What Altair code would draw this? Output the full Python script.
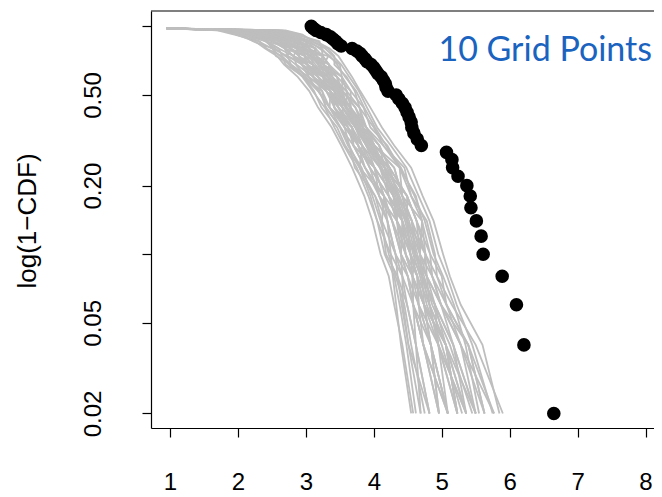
import altair as alt
import pandas as pd

# Observed survival points (1-CDF), largest probability first
obs_p = [1.00, 0.98, 0.96, 0.94, 0.92, 0.90, 0.88, 0.86, 0.84, 0.82,
         0.80, 0.78, 0.76, 0.74, 0.72, 0.70, 0.68, 0.66, 0.64, 0.62,
         0.60, 0.58, 0.56, 0.54, 0.52, 0.50, 0.48, 0.46, 0.44, 0.42,
         0.40, 0.38, 0.36, 0.34, 0.32, 0.30, 0.28, 0.26, 0.24, 0.22,
         0.20, 0.18, 0.16, 0.14, 0.12, 0.10, 0.08, 0.06, 0.04, 0.02]
obs_x = [3.08, 3.11, 3.15, 3.22, 3.30, 3.36, 3.40, 3.44, 3.47, 3.52,
         3.68, 3.75, 3.80, 3.83, 3.87, 3.90, 3.96, 4.00, 4.03, 4.06,
         4.11, 4.14, 4.17, 4.18, 4.21, 4.33, 4.37, 4.42, 4.46, 4.49,
         4.52, 4.55, 4.56, 4.59, 4.64, 4.70, 5.07, 5.15, 5.16, 5.24,
         5.37, 5.42, 5.43, 5.51, 5.58, 5.61, 5.89, 6.10, 6.21, 6.65]

# Simulated curves (grey): common start point, then x at each probability level
sim_start_x = 0.95
sim_start_p = 0.98
sim_levels = [0.96, 0.92, 0.86, 0.80, 0.74, 0.68, 0.60, 0.52, 0.44, 0.36,
              0.30, 0.24, 0.18, 0.14, 0.10, 0.08, 0.06, 0.04, 0.02]
sim_a = [1.70, 1.95, 2.32, 2.42, 2.65, 2.70, 2.97, 3.12, 3.23, 3.46, 3.58, 3.79, 3.95, 4.05, 4.25, 4.28, 4.33, 4.40, 4.55]
sim_b = [2.70, 2.95, 3.10, 3.32, 3.42, 3.42, 3.60, 3.72, 3.79, 4.00, 4.14, 4.45, 4.55, 4.78, 4.90, 4.93, 5.15, 5.50, 5.90]
sim_c = [1.90, 2.05, 2.22, 2.51, 2.56, 2.78, 3.04, 3.18, 3.35, 3.51, 3.70, 3.87, 4.15, 4.20, 4.25, 4.42, 4.43, 4.51, 4.69]
sim_d = [2.50, 2.85, 3.20, 3.23, 3.33, 3.50, 3.53, 3.60, 3.79, 3.89, 4.08, 4.23, 4.49, 4.63, 4.83, 4.86, 4.99, 5.39, 5.63]
sim_e = [2.20, 2.35, 2.71, 2.78, 2.99, 3.02, 3.25, 3.48, 3.54, 3.78, 3.89, 4.01, 4.29, 4.34, 4.54, 4.64, 4.66, 4.95, 5.09]
sim_f = [2.00, 2.25, 2.61, 2.69, 2.82, 2.86, 3.11, 3.36, 3.42, 3.62, 3.83, 3.94, 4.22, 4.42, 4.47, 4.64, 4.66, 4.73, 4.96]
sim_g = [2.30, 2.65, 2.81, 3.05, 3.08, 3.26, 3.32, 3.42, 3.60, 3.73, 3.95, 4.16, 4.29, 4.49, 4.61, 4.78, 4.82, 5.06, 5.50]
sim_h = [2.10, 2.45, 2.71, 2.96, 2.99, 3.10, 3.18, 3.42, 3.48, 3.68, 3.77, 4.01, 4.15, 4.27, 4.40, 4.50, 4.58, 4.84, 4.96]
sim_i = [2.40, 2.55, 2.91, 2.96, 3.16, 3.34, 3.39, 3.54, 3.73, 3.84, 4.01, 4.30, 4.42, 4.56, 4.61, 4.71, 4.90, 5.17, 5.36]
sim_j = [1.80, 2.15, 2.42, 2.60, 2.82, 2.94, 3.04, 3.30, 3.42, 3.57, 3.77, 3.94, 4.08, 4.27, 4.47, 4.57, 4.74, 4.95, 5.23]
sim_k = [2.60, 2.75, 3.00, 3.14, 3.25, 3.26, 3.46, 3.66, 3.66, 3.89, 4.14, 4.38, 4.62, 4.71, 4.76, 4.93, 5.07, 5.28, 5.77]
sim_l = [2.20, 2.55, 2.81, 2.87, 2.90, 3.10, 3.25, 3.36, 3.54, 3.73, 3.89, 4.09, 4.35, 4.42, 4.54, 4.57, 4.74, 5.06, 5.23]
sim_m = [2.00, 2.35, 2.51, 2.78, 2.90, 3.02, 3.18, 3.30, 3.48, 3.68, 3.83, 4.09, 4.22, 4.34, 4.47, 4.57, 4.58, 4.73, 5.09]
sim_n = [2.30, 2.45, 2.61, 2.87, 3.08, 3.18, 3.32, 3.48, 3.60, 3.78, 3.95, 4.23, 4.35, 4.49, 4.68, 4.71, 4.82, 4.95, 5.36]
sim_o = [2.10, 2.25, 2.61, 2.87, 3.08, 3.18, 3.25, 3.42, 3.54, 3.73, 3.83, 4.01, 4.29, 4.34, 4.47, 4.57, 4.66, 4.84, 5.09]
sim_p = [2.40, 2.75, 2.91, 3.14, 3.16, 3.26, 3.39, 3.60, 3.66, 3.84, 4.08, 4.23, 4.49, 4.63, 4.76, 4.78, 4.99, 5.28, 5.63]
sim_q = [1.90, 2.15, 2.51, 2.69, 2.73, 2.94, 3.11, 3.24, 3.35, 3.62, 3.70, 3.87, 4.15, 4.27, 4.40, 4.42, 4.49, 4.62, 4.82]
sim_r = [2.20, 2.45, 2.71, 2.87, 2.99, 3.10, 3.32, 3.54, 3.60, 3.78, 4.01, 4.16, 4.35, 4.56, 4.68, 4.71, 4.90, 5.17, 5.50]
sim_s = [2.30, 2.55, 2.71, 2.78, 2.90, 2.94, 3.18, 3.36, 3.42, 3.68, 3.77, 3.94, 4.22, 4.34, 4.54, 4.64, 4.74, 5.06, 5.23]
sim_t = [2.50, 2.65, 3.00, 3.05, 3.25, 3.34, 3.46, 3.54, 3.73, 3.89, 4.01, 4.30, 4.42, 4.56, 4.61, 4.78, 4.90, 5.06, 5.36]
sim_u = [2.10, 2.35, 2.61, 2.78, 2.90, 3.02, 3.11, 3.30, 3.48, 3.62, 3.77, 3.87, 4.08, 4.20, 4.32, 4.50, 4.58, 4.73, 5.09]
sim_v = [2.20, 2.45, 2.81, 2.96, 3.08, 3.10, 3.25, 3.48, 3.54, 3.73, 3.89, 4.09, 4.29, 4.42, 4.61, 4.71, 4.82, 4.95, 5.23]
sim_w = [2.00, 2.25, 2.51, 2.69, 2.82, 3.02, 3.18, 3.36, 3.48, 3.73, 3.89, 4.16, 4.29, 4.42, 4.54, 4.64, 4.74, 4.84, 5.09]
sim_x = [2.30, 2.55, 2.91, 3.05, 3.16, 3.18, 3.39, 3.48, 3.66, 3.78, 3.95, 4.16, 4.42, 4.49, 4.54, 4.64, 4.82, 5.06, 5.36]
sim_y = [1.80, 2.05, 2.42, 2.51, 2.73, 2.78, 2.97, 3.24, 3.29, 3.51, 3.64, 3.72, 4.02, 4.12, 4.18, 4.35, 4.41, 4.51, 4.82]
sim_z = [2.60, 2.85, 3.00, 3.23, 3.25, 3.34, 3.53, 3.66, 3.85, 3.95, 4.20, 4.38, 4.55, 4.71, 4.83, 5.00, 5.07, 5.39, 5.77]
sim_aa = [2.10, 2.55, 2.61, 2.96, 2.99, 3.26, 3.25, 3.54, 3.60, 3.84, 3.89, 4.16, 4.22, 4.49, 4.54, 4.71, 4.74, 5.06, 5.23]
sim_ab = [2.00, 2.45, 2.51, 2.87, 2.82, 3.10, 3.11, 3.42, 3.42, 3.68, 3.70, 4.01, 4.15, 4.42, 4.40, 4.57, 4.58, 4.73, 4.96]
sim_ac = [2.40, 2.45, 2.91, 2.87, 3.25, 3.18, 3.46, 3.48, 3.66, 3.73, 4.01, 4.09, 4.35, 4.34, 4.61, 4.57, 4.74, 4.84, 5.09]
sim_ad = [1.90, 2.35, 2.42, 2.78, 2.73, 3.02, 3.04, 3.36, 3.35, 3.68, 3.70, 4.01, 4.08, 4.34, 4.40, 4.50, 4.66, 4.84, 4.96]
sim_ae = [2.30, 2.75, 2.81, 3.14, 3.08, 3.34, 3.32, 3.60, 3.60, 3.89, 4.01, 4.38, 4.42, 4.71, 4.68, 4.86, 4.99, 5.17, 5.50]
sim_af = [2.20, 2.25, 2.71, 2.69, 2.99, 2.94, 3.25, 3.30, 3.54, 3.57, 3.83, 3.79, 4.15, 4.12, 4.32, 4.35, 4.49, 4.62, 4.82]
sim_ag = [2.50, 2.55, 3.00, 2.96, 3.33, 3.26, 3.53, 3.54, 3.79, 3.84, 4.08, 4.16, 4.49, 4.49, 4.76, 4.71, 4.90, 4.95, 5.36]
sim_ah = [2.10, 2.35, 2.71, 2.87, 2.90, 3.02, 3.32, 3.48, 3.66, 3.84, 3.95, 4.16, 4.49, 4.63, 4.68, 4.78, 4.99, 5.28, 5.50]
sim_ai = [2.00, 2.25, 2.42, 2.60, 2.65, 2.78, 2.97, 3.18, 3.35, 3.57, 3.64, 3.79, 4.02, 4.20, 4.32, 4.42, 4.58, 4.62, 4.69]
sim_aj = [2.30, 2.55, 2.81, 2.87, 2.99, 3.10, 3.18, 3.36, 3.60, 3.78, 3.89, 4.23, 4.35, 4.56, 4.76, 4.86, 5.07, 5.39, 5.63]
sim_ak = [1.75, 1.98, 2.25, 2.40, 2.58, 2.68, 2.88, 3.05, 3.18, 3.38, 3.52, 3.68, 3.86, 3.98, 4.10, 4.22, 4.30, 4.42, 4.58]
sim_al = [1.85, 2.10, 2.30, 2.50, 2.62, 2.75, 2.95, 3.10, 3.28, 3.42, 3.56, 3.75, 3.92, 4.05, 4.16, 4.30, 4.38, 4.48, 4.62]
sim_am = [1.95, 2.20, 2.40, 2.55, 2.70, 2.85, 3.00, 3.20, 3.30, 3.50, 3.62, 3.82, 3.98, 4.10, 4.22, 4.32, 4.45, 4.55, 4.75]
sim_an = [2.65, 2.92, 3.15, 3.35, 3.48, 3.56, 3.68, 3.80, 3.95, 4.12, 4.30, 4.55, 4.72, 4.88, 5.02, 5.12, 5.28, 5.60, 5.85]
sim_ao = [2.55, 2.80, 3.08, 3.28, 3.40, 3.52, 3.64, 3.78, 3.90, 4.05, 4.25, 4.48, 4.66, 4.82, 4.95, 5.08, 5.22, 5.45, 5.75]
sim_ap = [2.45, 2.70, 3.05, 3.20, 3.36, 3.46, 3.58, 3.74, 3.86, 4.02, 4.18, 4.40, 4.60, 4.75, 4.88, 5.02, 5.18, 5.35, 5.55]
sim_aq = [2.25, 2.50, 2.76, 2.92, 3.04, 3.14, 3.28, 3.45, 3.58, 3.76, 3.92, 4.12, 4.32, 4.46, 4.58, 4.68, 4.78, 5.00, 5.30]
sim_ar = [2.35, 2.60, 2.86, 3.00, 3.12, 3.22, 3.36, 3.51, 3.64, 3.81, 3.98, 4.20, 4.38, 4.52, 4.64, 4.74, 4.86, 5.12, 5.45]

sims = [sim_a, sim_b, sim_c, sim_d, sim_e, sim_f, sim_g, sim_h, sim_i, sim_j, sim_k, sim_l,
        sim_m, sim_n, sim_o, sim_p, sim_q, sim_r, sim_s, sim_t, sim_u, sim_v, sim_w, sim_x,
        sim_y, sim_z, sim_aa, sim_ab, sim_ac, sim_ad, sim_ae, sim_af, sim_ag, sim_ah, sim_ai, sim_aj,
        sim_ak, sim_al, sim_am, sim_an, sim_ao, sim_ap, sim_aq, sim_ar]

x_ticks = [1, 2, 3, 4, 5, 6, 7, 8]
y_ticks = [1.0, 0.5, 0.2, 0.1, 0.05, 0.02]
y_label = "log(1\u2212CDF)"
title_text = "10 Grid Points"

rows = []
for i, xs in enumerate(sims):
    rows.append({"sim": i, "step": 0, "x": sim_start_x, "p": sim_start_p})
    for j, (xv, pv) in enumerate(zip(xs, sim_levels)):
        rows.append({"sim": i, "step": j + 1, "x": xv, "p": pv})
sim_df = pd.DataFrame(rows)
obs_df = pd.DataFrame({"x": obs_x, "p": obs_p})

W, H = 503, 417
FONT = "Liberation Sans"

xscale = alt.Scale(domain=[0.72, 8.125], nice=False, zero=False)
yscale = alt.Scale(type="log", domain=[0.01727, 1.168], nice=False, zero=False)

xaxis = alt.Axis(values=x_ticks, format="d", title=None, grid=False, tickSize=9, tickColor="black",
                 domainColor="black", labelColor="black", labelFont=FONT, labelFontSize=24,
                 labelPadding=33, labelFlush=False, labelOverlap=False, tickWidth=1.2, domainWidth=1.2)
yaxis = alt.Axis(values=y_ticks, title=None, grid=False, tickSize=9, tickColor="black",
                 domainColor="black", labelColor="black", labelFont=FONT, labelFontSize=24,
                 labelAngle=270, labelAlign="center", labelBaseline="bottom", labelPadding=37,
                 labelFlush=False, labelOverlap=False, tickWidth=1.2, domainWidth=1.2,
                 labelExpr="(datum.value > 0.9 || (datum.value > 0.09 && datum.value < 0.11)) ? '' : format(datum.value, '.2f')")

lines = alt.Chart(sim_df).mark_line(color="#bebebe", strokeWidth=1.8, strokeJoin="miter").encode(
    x=alt.X("x:Q", scale=xscale, axis=xaxis),
    y=alt.Y("p:Q", scale=yscale, axis=yaxis),
    detail="sim:N",
    order="step:Q",
)

points = alt.Chart(obs_df).mark_circle(color="black", opacity=1, size=185).encode(
    x=alt.X("x:Q", scale=xscale),
    y=alt.Y("p:Q", scale=yscale),
)

top_border = alt.Chart(pd.DataFrame({"a": [0]})).mark_rule(color="black", strokeWidth=1.2).encode(
    x=alt.value(0), x2=alt.value(W), y=alt.value(0)
)

title = alt.Chart(pd.DataFrame({"t": [title_text]})).mark_text(
    font="Lato", fontSize=34, color="#1a63bf", align="right", baseline="alphabetic"
).encode(text="t:N", x=alt.value(501), y=alt.value(50))

ylab = alt.Chart(pd.DataFrame({"t": [y_label]})).mark_text(
    font=FONT, fontSize=26, color="black", angle=270, align="center", baseline="middle"
).encode(text="t:N", x=alt.value(-123), y=alt.value(210))

chart = alt.layer(lines, points, top_border, title, ylab).properties(
    width=W, height=H,
    autosize=alt.AutoSizeParams(type="none"),
    padding={"left": 143, "top": 3, "right": 0, "bottom": 68},
).configure_view(stroke=None)

chart.save("out.html", embed_options={"renderer": "svg", "actions": False})
